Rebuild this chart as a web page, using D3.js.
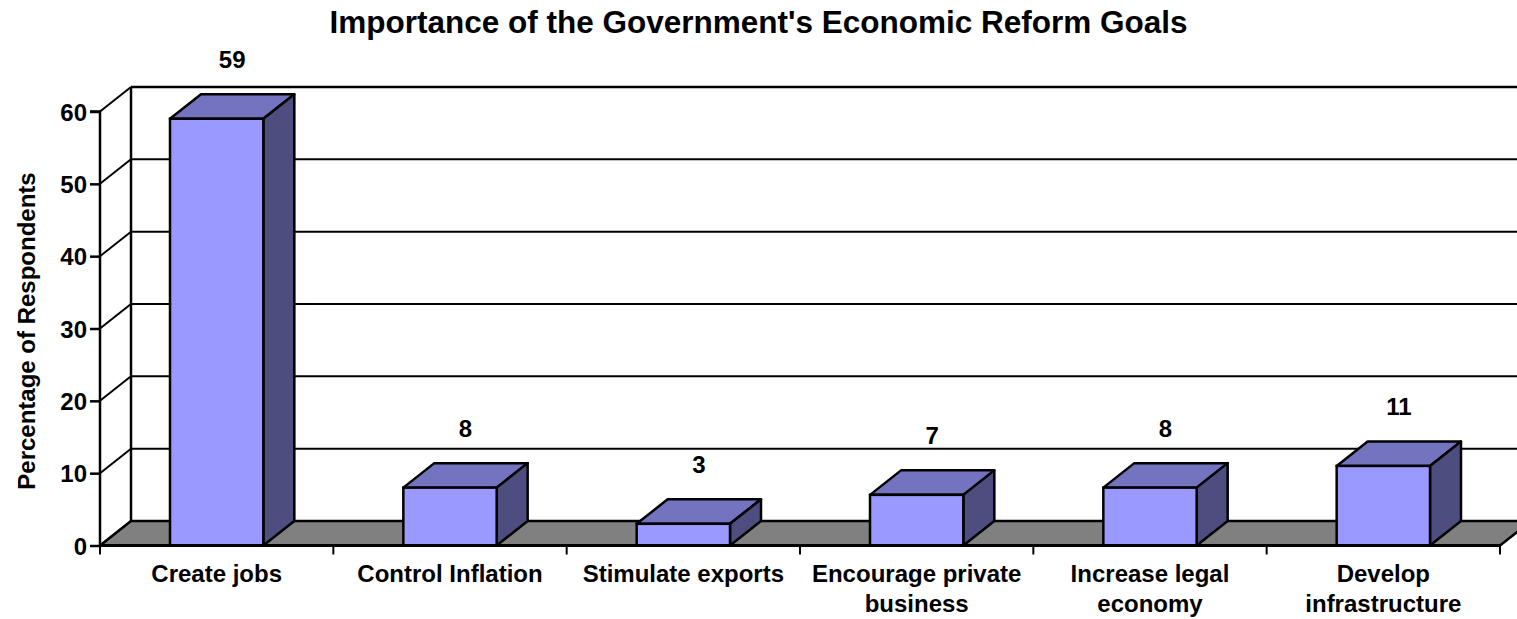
<!DOCTYPE html>
<html>
<head>
<meta charset="utf-8">
<script src="https://cdn.jsdelivr.net/npm/d3@7"></script>
<style>
  html, body { margin: 0; padding: 0; background: #ffffff; }
  svg { display: block; }
  text { font-family: "Liberation Sans", Arial, sans-serif; font-weight: bold; fill: #000; }
</style>
</head>
<body>
<svg id="chart" width="1517" height="619"></svg>
<script>
// Survey results: share of respondents naming each goal as most important
const categories = [
  "Create jobs",
  "Control Inflation",
  "Stimulate exports",
  "Encourage private\nbusiness",
  "Increase legal\neconomy",
  "Develop\ninfrastructure"
];
const values = [59, 8, 3, 7, 8, 11];
const yTicks = [0, 10, 20, 30, 40, 50, 60];
const titleText = "Importance of the Government's Economic Reform Goals";
const yAxisTitle = "Percentage of Respondents";

const W = 1517, H = 619;
const svg = d3.select("#chart");

// Front plane scales
const x = d3.scaleBand().domain(categories).range([100, 1500]).paddingInner(0).paddingOuter(0);
const y = d3.scaleLinear().domain([0, 60]).range([545.5, 111.5]);

// Oblique depth offset of the 3D box
const dx = 31, dy = -24.5;
const barFrac = 0.4;

const colFront = "#9999ff", colTop = "#7373bf", colSide = "#4d4d80", colFloor = "#808080";

// Floor
svg.append("polygon")
  .attr("points", [
    [x.range()[0], y(0)], [x.range()[1], y(0)],
    [x.range()[1] + dx, y(0) + dy], [x.range()[0] + dx, y(0) + dy]
  ].map(p => p.join(",")).join(" "))
  .attr("fill", colFloor).attr("stroke", "#000").attr("stroke-width", 2.5);

// Back wall gridlines
svg.append("g").selectAll("line").data(yTicks).join("line")
  .attr("x1", x.range()[0] + dx).attr("x2", x.range()[1] + dx)
  .attr("y1", d => y(d) + dy).attr("y2", d => y(d) + dy)
  .attr("stroke", "#000").attr("stroke-width", d => d === 60 ? 2.5 : 2);

// Back wall left edge
svg.append("line")
  .attr("x1", x.range()[0] + dx).attr("x2", x.range()[0] + dx)
  .attr("y1", y(0) + dy).attr("y2", y(60) + dy)
  .attr("stroke", "#000").attr("stroke-width", 2.5);

// Side wall lines joining front axis ticks to the back wall
svg.append("g").selectAll("line").data(yTicks).join("line")
  .attr("x1", x.range()[0]).attr("x2", x.range()[0] + dx)
  .attr("y1", d => y(d)).attr("y2", d => y(d) + dy)
  .attr("stroke", "#000").attr("stroke-width", 2);

// Bars
const bw = x.bandwidth() * barFrac;
const bars = svg.append("g").selectAll("g").data(values).join("g");
const pts = a => a.map(p => p.join(",")).join(" ");
bars.each(function (v, i) {
  const g = d3.select(this);
  const x0 = x(categories[i]) + (x.bandwidth() - bw) / 2;
  const x1 = x0 + bw;
  const yt = y(v), yb = y(0);
  g.append("polygon").attr("points", pts([[x0, yt], [x1, yt], [x1 + dx, yt + dy], [x0 + dx, yt + dy]]))
    .attr("fill", colTop).attr("stroke", "#000").attr("stroke-width", 2.5).attr("stroke-linejoin", "round");
  g.append("polygon").attr("points", pts([[x1, yt], [x1 + dx, yt + dy], [x1 + dx, yb + dy], [x1, yb]]))
    .attr("fill", colSide).attr("stroke", "#000").attr("stroke-width", 2.5).attr("stroke-linejoin", "round");
  g.append("rect").attr("x", x0).attr("y", yt).attr("width", bw).attr("height", yb - yt)
    .attr("fill", colFront).attr("stroke", "#000").attr("stroke-width", 2.5);
  g.append("text")
    .attr("x", (x0 + x1) / 2 + dx / 2)
    .attr("y", yt + dy - 26.5)
    .attr("text-anchor", "middle")
    .style("font-size", "24px")
    .text(v);
});

// Front value axis
const yAxis = d3.axisLeft(y).tickValues(yTicks).tickSize(10).tickPadding(3).tickFormat(d3.format("d"));
const gy = svg.append("g").attr("transform", `translate(${x.range()[0]},0)`).call(yAxis);
gy.select(".domain").attr("stroke", "#000").attr("stroke-width", 2.5).attr("d", `M-10,${y(60)}H0V${y(0)}`);
gy.selectAll(".tick line").attr("stroke", "#000").attr("stroke-width", 2.5);
gy.selectAll(".tick text")
  .attr("dy", null).attr("y", 8.5)
  .style("font-size", "24px").style("font-family", "'Liberation Sans', Arial, sans-serif").style("font-weight", "bold");

// Category axis baseline and boundary ticks
svg.append("line")
  .attr("x1", x.range()[0]).attr("x2", x.range()[1])
  .attr("y1", y(0)).attr("y2", y(0))
  .attr("stroke", "#000").attr("stroke-width", 3);
const bounds = categories.map(c => x(c)).concat([x.range()[1]]);
svg.append("g").selectAll("line").data(bounds).join("line")
  .attr("x1", d => d).attr("x2", d => d)
  .attr("y1", y(0)).attr("y2", y(0) + 9)
  .attr("stroke", "#000").attr("stroke-width", 2);

// Category labels
const cl = svg.append("g").selectAll("text").data(categories).join("text")
  .attr("x", d => x(d) + x.bandwidth() / 2)
  .attr("y", 582)
  .attr("text-anchor", "middle")
  .style("font-size", "24px");
cl.each(function (d) {
  const t = d3.select(this);
  d.split("\n").forEach((line, k) => {
    t.append("tspan").attr("x", x(d) + x.bandwidth() / 2).attr("dy", k === 0 ? 0 : 30).text(line);
  });
});

// Title
svg.append("text")
  .attr("x", 758.5).attr("y", 33)
  .attr("text-anchor", "middle")
  .style("font-size", "31.5px")
  .text(titleText);

// Value axis title
svg.append("text")
  .attr("transform", "translate(35,331) rotate(-90)")
  .attr("text-anchor", "middle")
  .style("font-size", "24px")
  .text(yAxisTitle);
</script>
</body>
</html>
